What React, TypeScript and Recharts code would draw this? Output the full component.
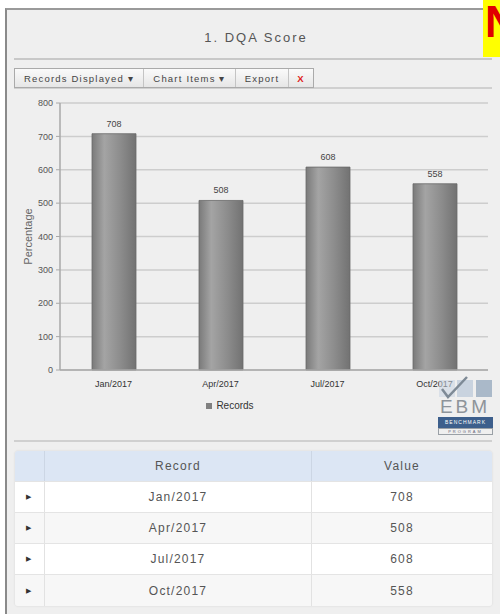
import { BarChart, Bar, XAxis, YAxis, CartesianGrid, LabelList, Legend } from 'recharts';

const periods = ['Jan/2017', 'Apr/2017', 'Jul/2017', 'Oct/2017'];
const records = [708, 508, 608, 558];
const yTicks = [0, 100, 200, 300, 400, 500, 600, 700, 800];

const data = periods.map((period, i) => ({ period, records: records[i] }));

const font = 'Arial, "Liberation Sans", sans-serif';

const abs = (left: number, top: number, width: number, height: number) => ({
  position: 'absolute' as const,
  left,
  top,
  width,
  height,
});

function Toolbar() {
  const btn = {
    height: 18,
    display: 'flex',
    alignItems: 'center',
    justifyContent: 'center',
    borderRight: '1px solid #c4c4c4',
    fontSize: 9.5,
    letterSpacing: 1.2,
    color: '#444',
    boxSizing: 'border-box' as const,
  };
  return (
    <div
      style={{
        ...abs(14, 68, 300, 20),
        display: 'flex',
        border: '1px solid #aaa',
        boxSizing: 'border-box',
        background: 'linear-gradient(#fafafa, #e6e6e6)',
        fontFamily: font,
      }}
    >
      <div style={{ ...btn, width: 129 }}>Records Displayed ▾</div>
      <div style={{ ...btn, width: 92 }}>Chart Items ▾</div>
      <div style={{ ...btn, width: 53 }}>Export</div>
      <div style={{ ...btn, width: 24, borderRight: 'none', color: '#e02020', fontWeight: 'bold' }}>X</div>
    </div>
  );
}

function Logo() {
  return (
    <div style={{ ...abs(437, 376, 56, 60), fontFamily: font }}>
      <div style={{ ...abs(2, 4, 16, 17), background: 'rgba(200,212,225,0.55)' }} />
      <div style={{ ...abs(20, 4, 16, 17), background: 'rgba(185,200,216,0.7)' }} />
      <div style={{ ...abs(39, 4, 16, 17), background: '#aab9c9' }} />
      <svg style={{ ...abs(2, 0, 30, 24) }} viewBox="0 0 30 24">
        <path d="M3 13 L9 21 L28 1" stroke="#7e8a96" strokeWidth={2.5} fill="none" />
      </svg>
      <div
        style={{
          ...abs(0, 22, 56, 18),
          fontSize: 19,
          letterSpacing: 3,
          color: '#8e949a',
          lineHeight: '18px',
          textAlign: 'center',
        }}
      >
        EBM
      </div>
      <div
        style={{
          ...abs(1, 41, 55, 11),
          background: '#3d5f8c',
          color: '#fff',
          fontSize: 5,
          letterSpacing: 1,
          lineHeight: '11px',
          textAlign: 'center',
        }}
      >
        BENCHMARK
      </div>
      <div
        style={{
          ...abs(1, 52, 55, 7),
          border: '1px solid #9aa0a6',
          boxSizing: 'border-box',
          color: '#667',
          fontSize: 4,
          letterSpacing: 2,
          lineHeight: '5px',
          textAlign: 'center',
        }}
      >
        PROGRAM
      </div>
    </div>
  );
}

function DataTable() {
  const cell = {
    display: 'flex',
    alignItems: 'center',
    justifyContent: 'center',
    boxSizing: 'border-box' as const,
    borderRight: '1px solid #e2e2e2',
    fontSize: 12,
    letterSpacing: 1.2,
    color: '#555',
  };
  const rowH = [31, 31, 31, 32];
  return (
    <div
      style={{
        ...abs(15, 451, 477, 155),
        fontFamily: font,
        borderRadius: 3,
        overflow: 'hidden',
        boxShadow: '0 0 2px #d0d0d0',
      }}
    >
      <div style={{ display: 'flex', height: 30, background: '#dce6f4' }}>
        <div style={{ ...cell, width: 30, borderRight: '1px solid #ccd6e4' }} />
        <div style={{ ...cell, width: 267, borderRight: '1px solid #ccd6e4' }}>Record</div>
        <div style={{ ...cell, flex: 1, borderRight: 'none' }}>Value</div>
      </div>
      {periods.map((p, i) => (
        <div
          key={p}
          style={{
            display: 'flex',
            height: rowH[i],
            background: i % 2 === 0 ? '#ffffff' : '#f7f7f7',
            borderTop: '1px solid #e4e4e4',
            boxSizing: 'border-box',
          }}
        >
          <div style={{ ...cell, width: 30, fontSize: 7, color: '#333' }}>▶</div>
          <div style={{ ...cell, width: 267 }}>{p}</div>
          <div style={{ ...cell, flex: 1, borderRight: 'none' }}>{records[i]}</div>
        </div>
      ))}
    </div>
  );
}

function LegendContent() {
  return (
    <div style={{ display: 'flex', alignItems: 'center', justifyContent: 'center', fontFamily: font }}>
      <span style={{ width: 6, height: 6, background: '#808080', marginRight: 4, display: 'inline-block' }} />
      <span style={{ fontSize: 10, color: '#333' }}>Records</span>
    </div>
  );
}

export default function App() {
  return (
    <div style={{ ...abs(0, 0, 500, 614), background: '#fff', overflow: 'hidden', fontFamily: font }}>
      {/* panel */}
      <div
        style={{
          ...abs(5, 8, 520, 620),
          background: '#efefef',
          borderLeft: '2px solid #8a8a8a',
          borderTop: '2px solid #9a9a9a',
          boxSizing: 'border-box',
        }}
      />
      <div
        style={{
          ...abs(0, 28, 500, 20),
          textAlign: 'center',
          paddingLeft: 6,
          fontSize: 13,
          letterSpacing: 2,
          color: '#555',
          lineHeight: '20px',
        }}
      >
        1. DQA Score
      </div>
      <div style={{ ...abs(14, 58, 478, 2), background: '#c8c8c8' }} />
      <div style={{ ...abs(14, 87, 478, 2), background: '#d0d0d0' }} />
      <Toolbar />

      <div style={{ ...abs(0, 90, 500, 340) }}>
        <BarChart
          width={500}
          height={340}
          data={data}
          margin={{ top: 13, right: 12, left: 0, bottom: 30 }}
          barSize={44}
        >
          <defs>
            <linearGradient id="barGrad" x1="0" y1="0" x2="1" y2="0">
              <stop offset="0%" stopColor="#7a7a7a" />
              <stop offset="28%" stopColor="#a4a4a4" />
              <stop offset="65%" stopColor="#8c8c8c" />
              <stop offset="100%" stopColor="#727272" />
            </linearGradient>
          </defs>
          <CartesianGrid vertical={false} stroke="#cdcdcd" strokeWidth={1.5} />
          <XAxis
            dataKey="period"
            tickLine={false}
            axisLine={{ stroke: '#a8a8a8', strokeWidth: 1.5 }}
            tick={{ fontSize: 9, fill: '#333', fontFamily: font }}
            tickMargin={5}
            height={30}
          />
          <YAxis
            domain={[0, 800]}
            ticks={yTicks}
            width={60}
            tickSize={4}
            tickLine={{ stroke: '#a8a8a8' }}
            axisLine={{ stroke: '#a8a8a8', strokeWidth: 1.5 }}
            tick={{ fontSize: 9, fill: '#555', fontFamily: font }}
            tickMargin={3}
            label={{
              value: 'Percentage',
              angle: -90,
              position: 'insideLeft',
              offset: 28,
              style: { fontSize: 11, fill: '#666', fontFamily: font, textAnchor: 'middle' },
            }}
          />
          <Legend
            layout="horizontal"
            verticalAlign="middle"
            content={<LegendContent />}
            wrapperStyle={{ top: 310, left: 0, width: 460 }}
          />
          <Bar
            dataKey="records"
            name="Records"
            fill="url(#barGrad)"
            stroke="#6a6a6a"
            strokeWidth={0.8}
            isAnimationActive={false}
          >
            <LabelList
              dataKey="records"
              position="top"
              offset={7}
              style={{ fontSize: 9, fill: '#444', fontFamily: font }}
            />
          </Bar>
        </BarChart>
      </div>

      <Logo />
      <div style={{ ...abs(14, 440, 478, 2), background: '#d0d0d0' }} />
      <DataTable />

      {/* corner badge */}
      <div
        style={{
          ...abs(483, 0, 20, 57),
          background: '#ffff00',
          color: '#e00000',
          fontSize: 44,
          fontWeight: 'bold',
          lineHeight: '44px',
          paddingLeft: 2,
          overflow: 'hidden',
        }}
      >
        N
      </div>
    </div>
  );
}
